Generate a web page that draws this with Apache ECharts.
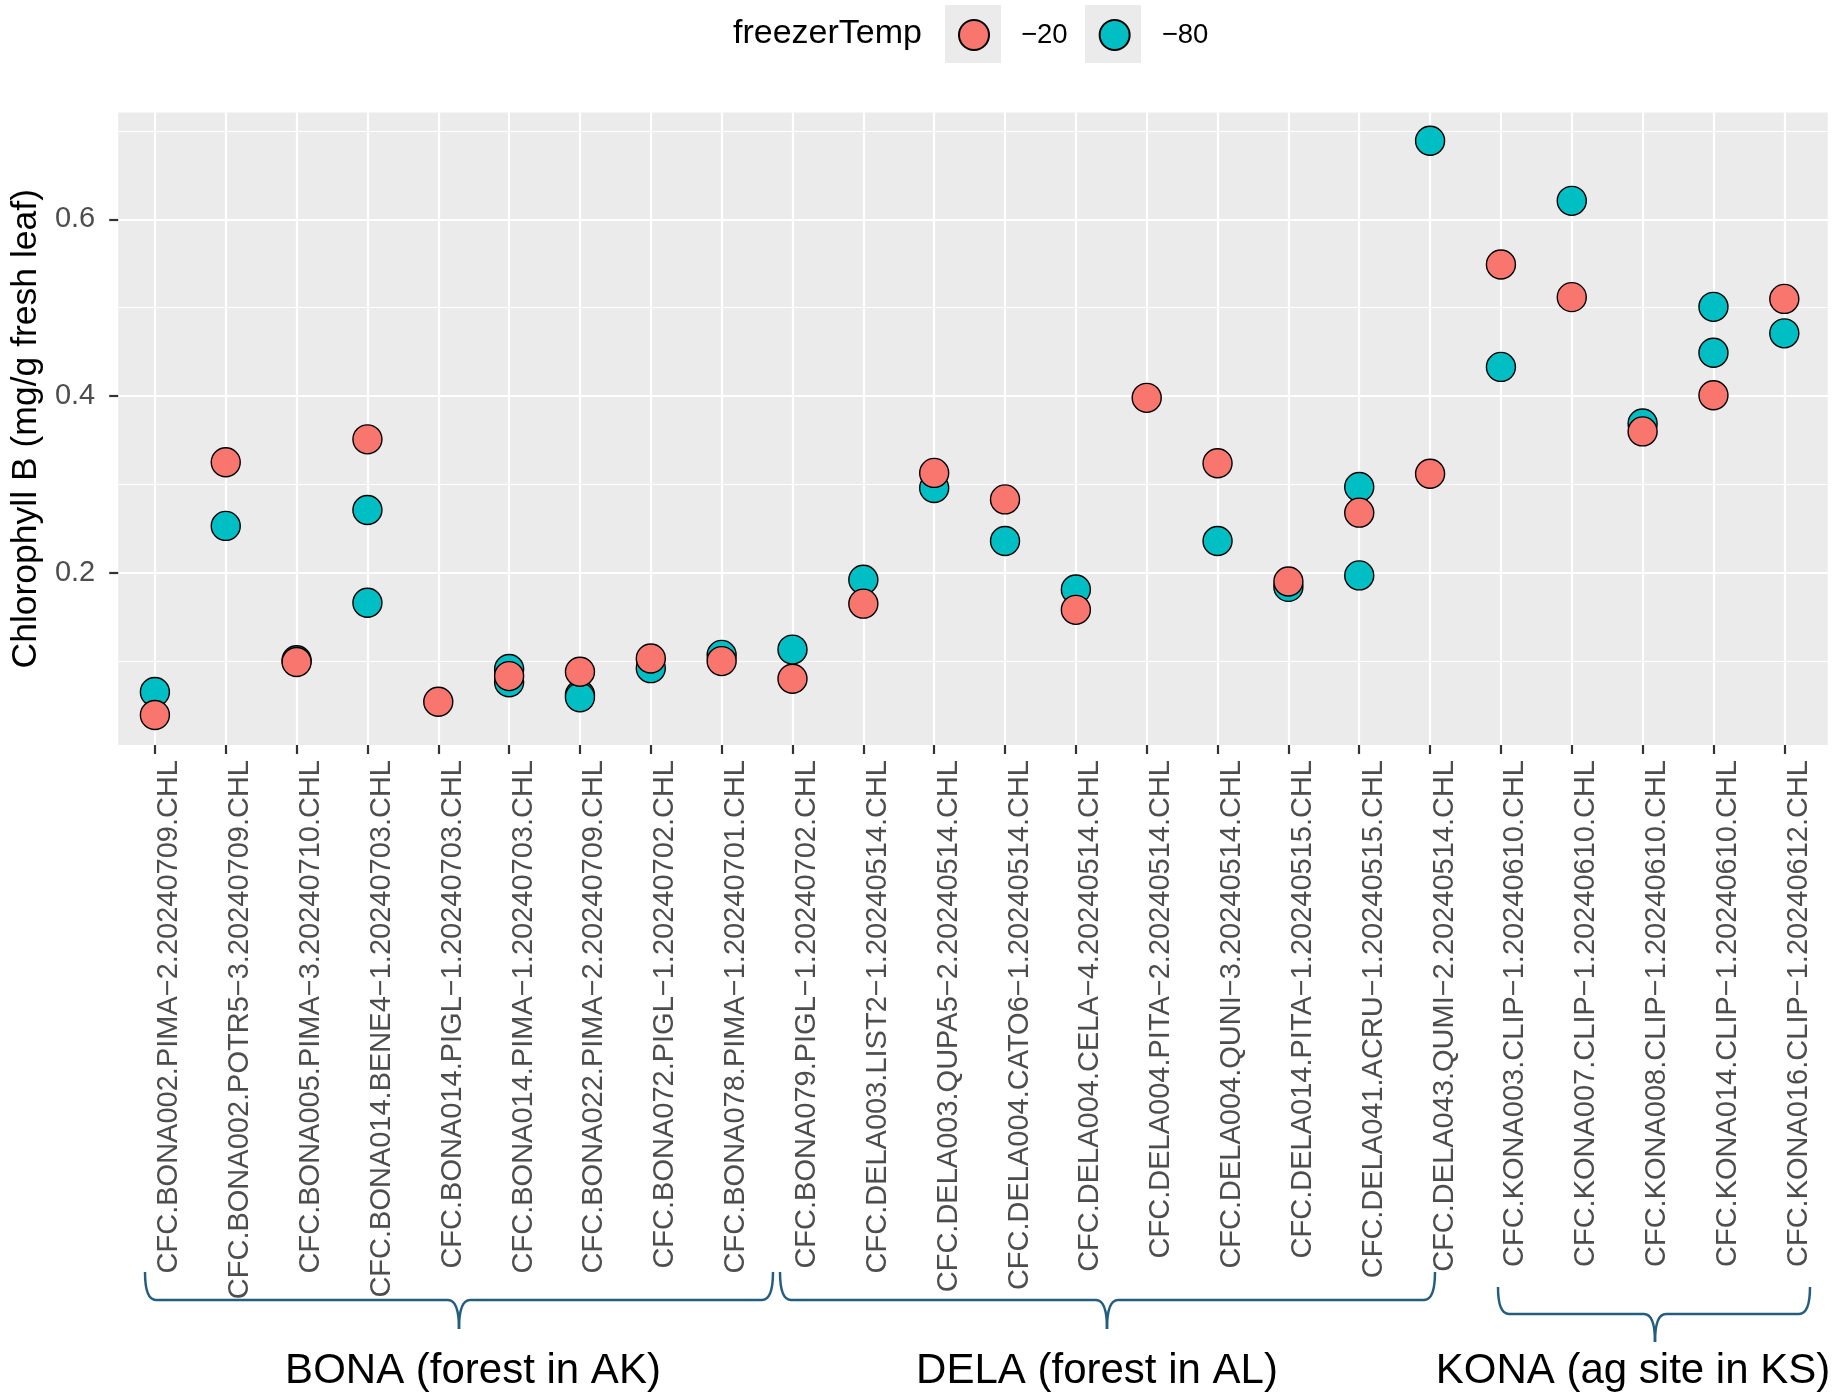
<!DOCTYPE html>
<html><head><meta charset="utf-8">
<script src="https://cdn.jsdelivr.net/npm/echarts@6/dist/echarts.min.js"></script>
<style>html,body{margin:0;padding:0;background:#fff}#c{width:1845px;height:1395px}</style>
</head><body><div id="c"></div>
<script>
// ---- data ----
const categories = [
  'CFC.BONA002.PIMA−2.20240709.CHL','CFC.BONA002.POTR5−3.20240709.CHL','CFC.BONA005.PIMA−3.20240710.CHL',
  'CFC.BONA014.BENE4−1.20240703.CHL','CFC.BONA014.PIGL−1.20240703.CHL','CFC.BONA014.PIMA−1.20240703.CHL',
  'CFC.BONA022.PIMA−2.20240709.CHL','CFC.BONA072.PIGL−1.20240702.CHL','CFC.BONA078.PIMA−1.20240701.CHL',
  'CFC.BONA079.PIGL−1.20240702.CHL','CFC.DELA003.LIST2−1.20240514.CHL','CFC.DELA003.QUPA5−2.20240514.CHL',
  'CFC.DELA004.CATO6−1.20240514.CHL','CFC.DELA004.CELA−4.20240514.CHL','CFC.DELA004.PITA−2.20240514.CHL',
  'CFC.DELA004.QUNI−3.20240514.CHL','CFC.DELA014.PITA−1.20240515.CHL','CFC.DELA041.ACRU−1.20240515.CHL',
  'CFC.DELA043.QUMI−2.20240514.CHL','CFC.KONA003.CLIP−1.20240610.CHL','CFC.KONA007.CLIP−1.20240610.CHL',
  'CFC.KONA008.CLIP−1.20240610.CHL','CFC.KONA014.CLIP−1.20240610.CHL','CFC.KONA016.CLIP−1.20240612.CHL'
];
// freezerTemp −20 : category index and value
const m20Cat = [0,1,2,3,4,5,6,7,8,9,10,11,12,13,14,15,16,17,18,19,20,21,22,23];
const m20Values = [0.039,0.325,0.099,0.351,0.054,0.083,0.088,0.103,0.100,0.080,0.165,0.313,
                   0.283,0.158,0.398,0.324,0.190,0.268,0.312,0.549,0.512,0.360,0.401,0.510];
// freezerTemp −80
const m80Cat = [0,1,2,3,3,5,5,6,6,7,8,9,10,11,12,13,15,16,17,17,18,19,20,21,22,22,23];
const m80Values = [0.065,0.253,0.101,0.271,0.166,0.091,0.076,0.062,0.059,0.092,0.107,0.113,0.192,
                   0.296,0.236,0.181,0.236,0.184,0.297,0.197,0.689,0.433,0.621,0.369,0.501,0.449,0.471];
const yMajorTicks = [0.2, 0.4, 0.6];
const yMinorTicks = [0.1, 0.3, 0.5, 0.7];
const legendTitle = 'freezerTemp';
const legendLabels = ['−20', '−80'];
const groupLabels = ['BONA (forest in AK)', 'DELA (forest in AL)', 'KONA (ag site in KS)'];

// ---- layout / style ----
const FONT = "'Liberation Sans', Arial, Helvetica, sans-serif";
const PANEL = {left: 113.4, top: 112.5, width: 1714.3, height: 632.5};
const Y_MIN = 0.005, Y_MAX = 0.721;
const firstX = 154.9, lastX = 1784.3;
const COL20 = '#F8766D', COL80 = '#00BFC4';
const BRACE = '#245E7E';

function brace(x1, x2, xc, top, bar, tip) {
  const s = {stroke: BRACE, lineWidth: 2.5, fill: null};
  const r = 11;
  return [
    {type: 'bezierCurve', shape: {x1: x1, y1: top, x2: x1 + r, y2: bar, cpx1: x1, cpy1: bar}, style: s},
    {type: 'line', shape: {x1: x1 + r, y1: bar, x2: xc - r, y2: bar}, style: s},
    {type: 'bezierCurve', shape: {x1: xc - r, y1: bar, x2: xc, y2: tip, cpx1: xc, cpy1: bar}, style: s},
    {type: 'bezierCurve', shape: {x1: xc + r, y1: bar, x2: xc, y2: tip, cpx1: xc, cpy1: bar}, style: s},
    {type: 'line', shape: {x1: xc + r, y1: bar, x2: x2 - r, y2: bar}, style: s},
    {type: 'bezierCurve', shape: {x1: x2 - r, y1: bar, x2: x2, y2: top, cpx1: x2, cpy1: bar}, style: s}
  ];
}

const graphics = [
  {type: 'text', left: 733, top: 17, z: 10, style: {text: legendTitle, font: '34px ' + FONT, fill: '#000'}},
  {type: 'rect', shape: {x: 945, y: 5, width: 56, height: 58}, style: {fill: '#EBEBEB'}, z: 0},
  {type: 'rect', shape: {x: 1085, y: 5, width: 56, height: 58}, style: {fill: '#EBEBEB'}, z: 0},
  ...brace(145, 773, 459, 1272, 1300, 1329),
  ...brace(780, 1435, 1107, 1272, 1300, 1329),
  ...brace(1498, 1810, 1655, 1287, 1314, 1342),
  {type: 'text', x: 473, y: 1371, style: {text: groupLabels[0], font: '42px ' + FONT, fill: '#000', align: 'center', verticalAlign: 'middle'}},
  {type: 'text', x: 1097, y: 1371, style: {text: groupLabels[1], font: '42px ' + FONT, fill: '#000', align: 'center', verticalAlign: 'middle'}},
  {type: 'text', x: 1633, y: 1371, style: {text: groupLabels[2], font: '42px ' + FONT, fill: '#000', align: 'center', verticalAlign: 'middle'}}
];

const chart = echarts.init(document.getElementById('c'), null, {renderer: 'canvas'});
chart.setOption({
  animation: false,
  backgroundColor: '#fff',
  textStyle: {fontFamily: FONT},
  legend: {
    data: legendLabels,
    left: 958, top: 19, padding: 0,
    itemWidth: 30, itemHeight: 30, itemGap: 31,
    icon: 'circle',
    selectedMode: false,
    textStyle: {fontSize: 27.5, color: '#000', fontFamily: FONT, padding: [0, 0, 0, 27]}
  },
  grid: [
    {left: PANEL.left, top: PANEL.top, width: PANEL.width, height: PANEL.height,
     show: true, backgroundColor: '#EBEBEB', borderWidth: 0},
    {left: firstX, top: PANEL.top, width: lastX - firstX, height: PANEL.height, show: false}
  ],
  xAxis: [
    {gridIndex: 0, type: 'value', min: 0, max: 1, show: false},
    {gridIndex: 1, type: 'category', data: categories, boundaryGap: false,
     axisLine: {show: false},
     axisTick: {show: true, interval: 0, length: 9, lineStyle: {color: '#333333', width: 2.2}},
     axisLabel: {show: true, interval: 0, rotate: 90, margin: 15, verticalAlign: 'top',
                 fontSize: 29, color: '#4D4D4D', fontFamily: FONT},
     splitLine: {show: true, interval: 0, lineStyle: {color: '#FFFFFF', width: 2.2}}}
  ],
  yAxis: [
    {gridIndex: 0, type: 'value', min: Y_MIN, max: Y_MAX,
     name: 'Chlorophyll B (mg/g fresh leaf)', nameLocation: 'middle', nameRotate: 90, nameGap: 63,
     nameTextStyle: {fontSize: 35.5, color: '#000', fontFamily: FONT},
     axisLine: {show: false},
     axisTick: {show: true, length: 9, customValues: yMajorTicks, lineStyle: {color: '#333333', width: 2.2}},
     axisLabel: {show: true, customValues: yMajorTicks, margin: 23, fontSize: 29, color: '#4D4D4D',
                 fontFamily: FONT, formatter: v => v.toFixed(1)},
     splitLine: {show: true, lineStyle: {color: '#FFFFFF', width: 2.2}}},
    {gridIndex: 0, type: 'value', min: Y_MIN, max: Y_MAX,
     axisLine: {show: false},
     axisTick: {show: false, customValues: yMinorTicks},
     axisLabel: {show: false, customValues: yMinorTicks},
     splitLine: {show: true, lineStyle: {color: '#FFFFFF', width: 1.1}}},
    {gridIndex: 1, type: 'value', min: Y_MIN, max: Y_MAX, show: false, splitLine: {show: false}}
  ],
  series: [
    {name: legendLabels[1], type: 'scatter', xAxisIndex: 1, yAxisIndex: 2,
     data: m80Cat.map((c, i) => [categories[c], m80Values[i]]),
     symbol: 'circle', symbolSize: 29,
     itemStyle: {color: COL80, borderColor: '#000', borderWidth: 1.4, opacity: 1},
     emphasis: {disabled: true}, z: 3},
    {name: legendLabels[0], type: 'scatter', xAxisIndex: 1, yAxisIndex: 2,
     data: m20Cat.map((c, i) => [categories[c], m20Values[i]]),
     symbol: 'circle', symbolSize: 29,
     itemStyle: {color: COL20, borderColor: '#000', borderWidth: 1.4, opacity: 1},
     emphasis: {disabled: true}, z: 4}
  ],
  graphic: graphics
});
</script></body></html>
